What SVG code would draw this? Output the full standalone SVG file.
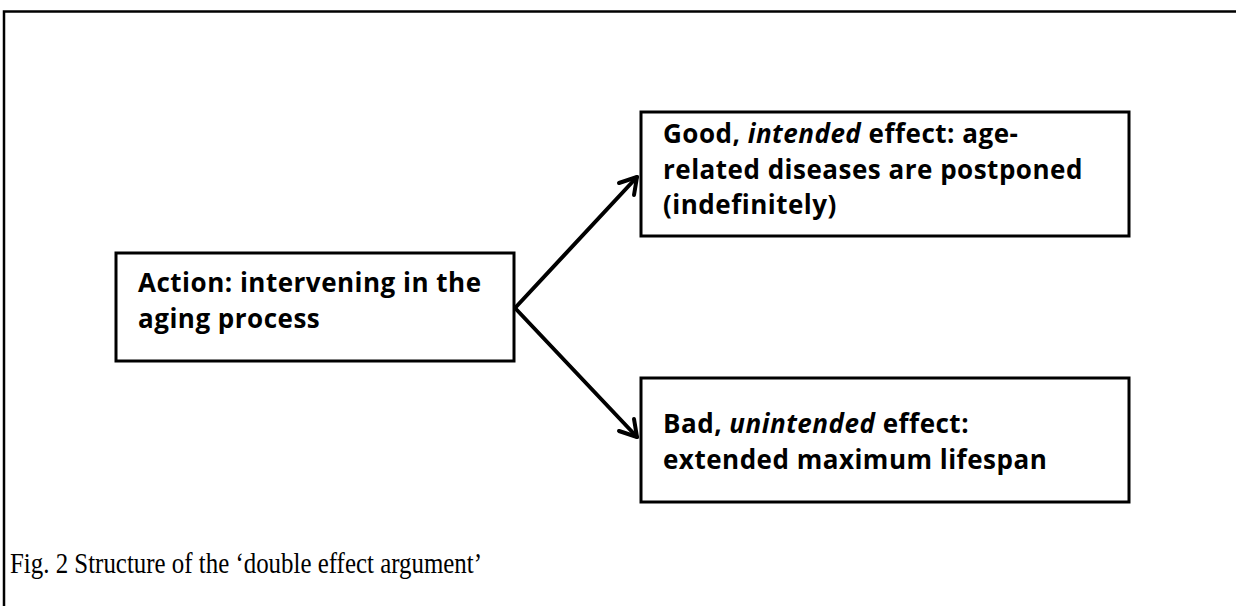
<svg xmlns="http://www.w3.org/2000/svg" width="1236" height="606" viewBox="0 0 1236 606">
<defs>
<style>
.box{fill:#fff;stroke:#000;stroke-width:3}
.t{font-family:"Open Sans",Lato,"Liberation Sans",sans-serif;font-weight:bold;font-size:26px;letter-spacing:0.5px;fill:#000}
.conn{stroke:#000;stroke-width:4;fill:none;stroke-linecap:round;stroke-linejoin:round}
.cap{font-family:"Liberation Serif","DejaVu Serif",serif;font-size:29px;fill:#000}
</style>
</defs>
<rect width="1236" height="606" fill="#fff"/>
<g id="frame">
<path d="M4,606 V11.5 H1236" fill="none" stroke="#000" stroke-width="2.5"/>
</g>
<g id="connectors">
<path class="conn" d="M515,308 L637,177"/>
<path class="conn" d="M619,183 L637,177 L634,195"/>
<path class="conn" d="M515,308 L637,437"/>
<path class="conn" d="M619,431 L637,437 L634,419"/>
</g>
<g id="action">
<rect class="box" x="116" y="253" width="398" height="108"/>
<text class="t" x="138" y="292">Action: intervening in the</text>
<text class="t" x="138" y="328">aging process</text>
</g>
<g id="good">
<rect class="box" x="641" y="112" width="488" height="124"/>
<text class="t" x="663" y="143">Good, <tspan font-style="italic">intended</tspan> effect: age-</text>
<text class="t" x="663" y="178.5">related diseases are postponed</text>
<text class="t" x="663" y="214">(indefinitely)</text>
</g>
<g id="bad">
<rect class="box" x="641" y="378" width="488" height="124"/>
<text class="t" x="663" y="433">Bad, <tspan font-style="italic">unintended</tspan> effect:</text>
<text class="t" x="663" y="469">extended maximum lifespan</text>
</g>
<g id="caption">
<text class="cap" x="10" y="573" textLength="472" lengthAdjust="spacingAndGlyphs">Fig. 2 Structure of the ‘double effect argument’</text>
</g>
</svg>
